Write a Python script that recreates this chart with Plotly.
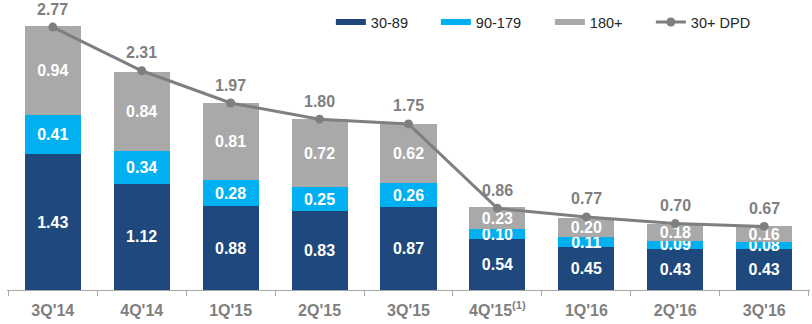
import plotly.graph_objects as go

categories = ["3Q'14", "4Q'14", "1Q'15", "2Q'15", "3Q'15", "4Q'15<sup>(1)</sup>", "1Q'16", "2Q'16", "3Q'16"]
dpd_30_89 = [1.43, 1.12, 0.88, 0.83, 0.87, 0.54, 0.45, 0.43, 0.43]
dpd_90_179 = [0.41, 0.34, 0.28, 0.25, 0.26, 0.10, 0.11, 0.09, 0.08]
dpd_180 = [0.94, 0.84, 0.81, 0.72, 0.62, 0.23, 0.20, 0.18, 0.16]
dpd_total = [2.77, 2.31, 1.97, 1.80, 1.75, 0.86, 0.77, 0.70, 0.67]

FONT = "Liberation Sans, Arial, sans-serif"
inside_font = dict(family=FONT, size=16, color="white")

series = [("30-89", dpd_30_89, "#1f497d", 60),
          ("90-179", dpd_90_179, "#00b0f0", 69),
          ("180+", dpd_180, "#a9a9a9", 56)]

fig = go.Figure()
# legend swatches (wide flat bars like the reference)
for name, vals, col, lw in series:
    fig.add_trace(go.Scatter(
        x=[categories[0]], y=[None], name=name, mode="lines",
        line=dict(color=col, width=6), legendwidth=lw, hoverinfo="skip"))

for name, vals, col, lw in series:
    fig.add_trace(go.Bar(
        x=categories, y=vals, name=name, showlegend=False,
        marker=dict(color=col, line=dict(width=0)),
        text=[f"<b>{v:.2f}</b>" for v in vals], textposition="inside",
        insidetextanchor="middle", constraintext="none", textfont=inside_font,
        textangle=0, hoverinfo="skip"))

fig.add_trace(go.Scatter(
    x=categories, y=dpd_total, name="30+ DPD", mode="lines+markers",
    line=dict(color="#7f7f7f", width=3), marker=dict(color="#7f7f7f", size=9)))

for c, v in zip(categories, dpd_total):
    fig.add_annotation(x=c, y=v, text=f"<b>{v:.2f}</b>", showarrow=False,
                       yshift=18, font=dict(family=FONT, size=16, color="#7f7f7f"))

fig.update_layout(
    width=812, height=324, barmode="stack", bargap=0.37,
    margin=dict(l=7, r=2, t=10, b=34),
    plot_bgcolor="white", paper_bgcolor="white",
    font=dict(family=FONT),
    legend=dict(orientation="h", x=327.5 / 812, xanchor="left",
                xref="paper", y=0.957, yanchor="middle",
                font=dict(family=FONT, size=14.5, color="#262626"),
                bgcolor="rgba(0,0,0,0)", traceorder="normal"),
    xaxis=dict(type="category", categoryorder="array", categoryarray=categories,
               showline=True, linecolor="#a6a6a6", linewidth=1, ticks="outside",
               tickson="boundaries", ticklen=5, tickcolor="#a6a6a6",
               tickfont=dict(family=FONT, size=16, color="#7f7f7f"),
               ticklabelstandoff=6),
    yaxis=dict(range=[0, 2.95], visible=False, showgrid=False, zeroline=False),
)
fig.update_xaxes(tickprefix="<b>", ticksuffix="</b>")
fig.write_html("out.html")
